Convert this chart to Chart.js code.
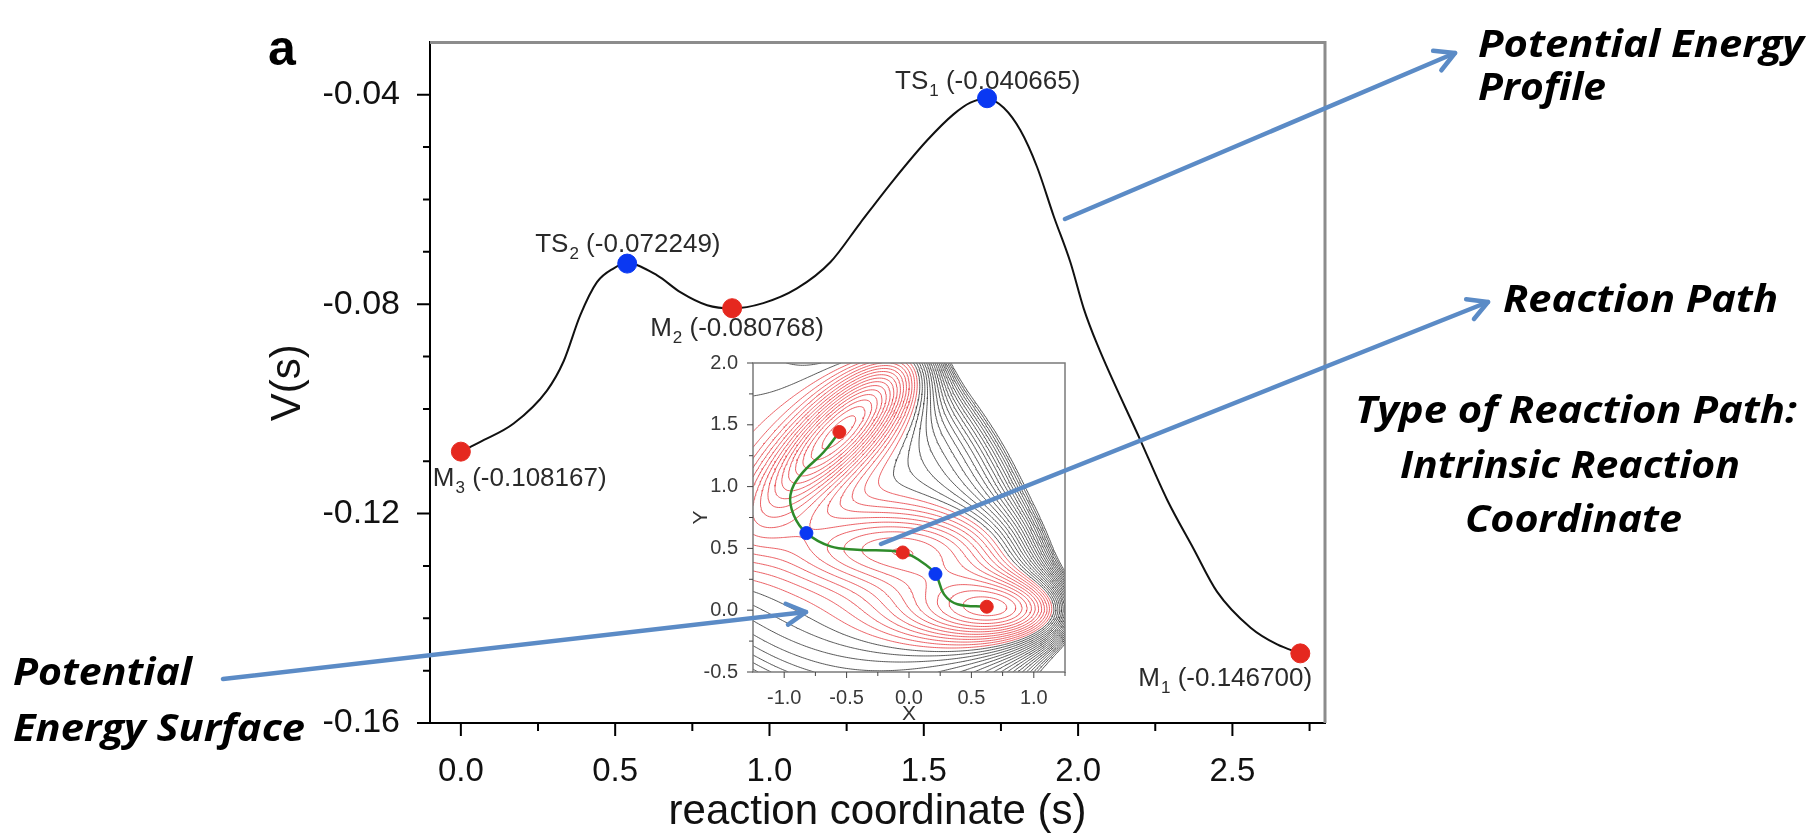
<!DOCTYPE html>
<html>
<head>
<meta charset="utf-8">
<script src="https://cdn.jsdelivr.net/npm/chart.js@4.4.0/dist/chart.umd.min.js"></script>
<style>
  html, body { margin: 0; padding: 0; background: #fff; }
  #wrap { position: relative; width: 1812px; height: 834px; overflow: hidden; }
  #main { position: absolute; left: 0; top: 0; }
  #inset { position: absolute; left: 690px; top: 340px; }
  #notes { position: absolute; left: 0; top: 0; }
  .note { font-family: "Open Sans", Lato, sans-serif; font-weight: 700; font-style: italic; font-size: 38px; fill: #000; }
</style>
</head>
<body>
<div id="wrap">
  <canvas id="main" width="1812" height="834"></canvas>
  <canvas id="inset" width="390" height="390"></canvas>
  <svg id="notes" width="1812" height="834">
    <text x="268" y="65" style="font-family:'Liberation Sans',Arial,sans-serif;font-weight:700;font-size:50px;">a</text>
    <g id="arrows" stroke="#5b8bc6" stroke-width="4.5" fill="none" stroke-linecap="round" stroke-linejoin="round"></g>
    <text class="note" x="1478" y="57" textLength="326" lengthAdjust="spacingAndGlyphs">Potential Energy</text>
    <text class="note" x="1478" y="100" textLength="128" lengthAdjust="spacingAndGlyphs">Profile</text>
    <text class="note" x="1503" y="312" textLength="275" lengthAdjust="spacingAndGlyphs">Reaction Path</text>
    <text class="note" x="1355" y="423" textLength="442" lengthAdjust="spacingAndGlyphs">Type of Reaction Path:</text>
    <text class="note" x="1400" y="478" textLength="340" lengthAdjust="spacingAndGlyphs">Intrinsic Reaction</text>
    <text class="note" x="1465" y="532" textLength="217" lengthAdjust="spacingAndGlyphs">Coordinate</text>
    <text class="note" x="13" y="685" textLength="179" lengthAdjust="spacingAndGlyphs">Potential</text>
    <text class="note" x="13" y="741" textLength="292" lengthAdjust="spacingAndGlyphs">Energy Surface</text>
  </svg>
</div>
<script>
// ---- main profile: V(s) along the reaction coordinate ----
const energyS = [0, 0.063, 0.171, 0.279, 0.333, 0.387, 0.441, 0.494, 0.539, 0.636, 0.711, 0.798,
  0.879, 0.98, 1.089, 1.197, 1.294, 1.402, 1.511, 1.597, 1.651, 1.705, 1.759, 1.813, 1.867,
  1.921, 1.975, 2.018, 2.062, 2.202, 2.288, 2.374, 2.45, 2.559, 2.645, 2.72];
const energyV = [-0.1082, -0.1063, -0.1028, -0.0965, -0.0909, -0.0821, -0.0758, -0.0732, -0.0722,
  -0.0745, -0.0777, -0.0802, -0.0808, -0.0798, -0.0770, -0.0720, -0.0645, -0.0563, -0.0487,
  -0.0437, -0.0415, -0.0407, -0.0425, -0.0468, -0.0538, -0.0632, -0.0720, -0.0808, -0.0877,
  -0.1060, -0.1173, -0.1267, -0.1349, -0.1418, -0.1450, -0.1467];

// stationary points
const minimaS = [0.0, 0.879, 2.72];
const minimaV = [-0.108167, -0.080768, -0.146700];
const minimaSub = ['3', '2', '1'];
const saddleS = [0.539, 1.705];
const saddleV = [-0.072249, -0.040665];
const saddleSub = ['2', '1'];

const xTicks = [0, 0.5, 1.0, 1.5, 2.0, 2.5];
const yTicks = [-0.16, -0.12, -0.08, -0.04];

// ---- inset: Muller-Brown surface ----
const mbAmp = [-200, -100, -170, 15];
const mbA = [-1, -1, -6.5, 0.7];
const mbB = [0, 0, 11, 0.6];
const mbC = [-10, -10, -6.5, 0.7];
const mbX0 = [1, 0, -0.5, -1];
const mbY0 = [0, 0.5, 1.5, 1];
const redLevels = [-140, -130, -120, -110, -100, -90, -80, -70, -60, -50, -40, -30, -20, -10];
const redDashLevels = [0, 10];
const greyLevels = [20, 30, 40, 50, 60, 70, 80, 90, 100, 110, 120, 130, 140, 150, 160, 170, 180, 190, 200];
const pathX = [-0.558, -0.683, -0.870, -0.950, -0.924, -0.822, -0.629, -0.415, -0.050, 0.094, 0.212, 0.281, 0.389, 0.623];
const pathY = [1.442, 1.280, 1.092, 0.932, 0.771, 0.624, 0.516, 0.490, 0.467, 0.396, 0.293, 0.128, 0.048, 0.028];
const insetMinX = [-0.558, -0.050, 0.623];
const insetMinY = [1.442, 0.467, 0.028];
const insetTsX = [-0.822, 0.212];
const insetTsY = [0.624, 0.293];
const insetXTicks = [-1.0, -0.5, 0.0, 0.5, 1.0];
const insetYTicks = [-0.5, 0.0, 0.5, 1.0, 1.5, 2.0];

Chart.defaults.font.family = "'Liberation Sans', Arial, sans-serif";
Chart.defaults.color = '#111';

const RED = '#e5281f';
const BLUE = '#0a38f2';

// label offsets (px) relative to each marker: [M3, M2, M1] and [TS2, TS1]
const minimaLabelOff = [[-28, 34], [-82, 28], [-162, 33]];
const saddleLabelOff = [[-92, -12], [-92, -9]];

function drawSubLabel(ctx, x, y, name, sub, value) {
  ctx.font = "26px 'Liberation Sans', Arial, sans-serif";
  ctx.fillStyle = '#2a2a2a';
  ctx.textBaseline = 'alphabetic';
  ctx.textAlign = 'left';
  ctx.fillText(name, x, y);
  let w = ctx.measureText(name).width;
  ctx.font = "17px 'Liberation Sans', Arial, sans-serif";
  ctx.fillText(sub, x + w + 1, y + 7);
  w += ctx.measureText(sub).width + 1;
  ctx.font = "26px 'Liberation Sans', Arial, sans-serif";
  ctx.fillText(' (' + value.toFixed(6) + ')', x + w, y);
}

const mainDecor = {
  id: 'mainDecor',
  beforeDatasetsDraw(chart) {
    const { ctx, scales: { x, y } } = chart;
    ctx.save();
    minimaS.forEach((s, i) => {
      drawSubLabel(ctx, x.getPixelForValue(s) + minimaLabelOff[i][0],
        y.getPixelForValue(minimaV[i]) + minimaLabelOff[i][1], 'M', minimaSub[i], minimaV[i]);
    });
    saddleS.forEach((s, i) => {
      drawSubLabel(ctx, x.getPixelForValue(s) + saddleLabelOff[i][0],
        y.getPixelForValue(saddleV[i]) + saddleLabelOff[i][1], 'TS', saddleSub[i], saddleV[i]);
    });
    ctx.restore();
  },
  afterDraw(chart) {
    const { ctx, chartArea: a, scales: { x, y } } = chart;
    ctx.save();
    // grey top / right frame
    ctx.strokeStyle = '#8c8c8c';
    ctx.lineWidth = 3;
    ctx.beginPath();
    ctx.moveTo(a.left, a.top);
    ctx.lineTo(a.right, a.top);
    ctx.lineTo(a.right, a.bottom);
    ctx.stroke();
    // ticks (major + minor), outside
    ctx.strokeStyle = '#000';
    ctx.lineWidth = 2;
    ctx.beginPath();
    for (let k = 0; k <= 12; k++) {
      const v = -0.16 + k * 0.01;
      const py = y.getPixelForValue(v);
      const len = k % 4 === 0 ? 13 : 7;
      ctx.moveTo(a.left - len, py);
      ctx.lineTo(a.left, py);
    }
    for (let k = 0; k <= 11; k++) {
      const v = k * 0.25;
      const px = x.getPixelForValue(v);
      const len = k % 2 === 0 ? 13 : 8;
      ctx.moveTo(px, a.bottom);
      ctx.lineTo(px, a.bottom + len);
    }
    ctx.stroke();
    ctx.restore();
  }
};

new Chart(document.getElementById('main'), {
  type: 'scatter',
  data: {
    datasets: [
      {
        label: 'minima',
        data: minimaS.map((s, i) => ({ x: s, y: minimaV[i] })),
        backgroundColor: RED, borderColor: RED, pointRadius: 9.5, pointHoverRadius: 9.5,
        order: 0
      },
      {
        label: 'transition states',
        data: saddleS.map((s, i) => ({ x: s, y: saddleV[i] })),
        backgroundColor: BLUE, borderColor: BLUE, pointRadius: 9.5, pointHoverRadius: 9.5,
        order: 0
      },
      {
        label: 'V(s)',
        data: energyS.map((s, i) => ({ x: s, y: energyV[i] })),
        showLine: true, borderColor: '#111', borderWidth: 2, pointRadius: 0,
        cubicInterpolationMode: 'monotone', order: 1
      }
    ]
  },
  options: {
    responsive: false,
    animation: false,
    layout: { padding: { left: 240, right: 487, top: 34, bottom: 0 } },
    plugins: { legend: { display: false }, tooltip: { enabled: false } },
    scales: {
      x: {
        type: 'linear', position: 'bottom', min: -0.1, max: 2.8,
        afterBuildTicks: s => { s.ticks = xTicks.map(v => ({ value: v })); },
        afterFit: s => { s.height = 111; },
        ticks: { font: { size: 33 }, color: '#111', padding: 21, maxRotation: 0, autoSkip: false,
          callback: v => v.toFixed(1) },
        grid: { display: false },
        border: { display: true, color: '#000', width: 2 },
        title: { display: true, text: 'reaction coordinate (s)', color: '#111',
          font: { size: 42, lineHeight: 1 }, padding: { top: 0, bottom: 1 } }
      },
      y: {
        type: 'linear', position: 'left', min: -0.16, max: -0.03,
        afterBuildTicks: s => { s.ticks = yTicks.map(v => ({ value: v })); },
        afterFit: s => { s.width = 190; },
        ticks: { font: { size: 34 }, color: '#111', padding: 22, autoSkip: false,
          callback: v => v.toFixed(2) },
        grid: { display: false },
        border: { display: true, color: '#000', width: 2 },
        title: { display: true, text: 'V(s)', color: '#111',
          font: { size: 42, lineHeight: 1 }, padding: { top: 27, bottom: 0 } }
      }
    }
  },
  plugins: [mainDecor]
});

// ---- inset contours (marching squares over the surface) ----
function mbV(x, y) {
  let v = 0;
  for (let k = 0; k < 4; k++) {
    const dx = x - mbX0[k], dy = y - mbY0[k];
    v += mbAmp[k] * Math.exp(mbA[k] * dx * dx + mbB[k] * dx * dy + mbC[k] * dy * dy);
  }
  return v;
}

const GX0 = -1.25, GX1 = 1.25, GY0 = -0.5, GY1 = 2.0, GN = 170;
const grid = [];
for (let j = 0; j <= GN; j++) {
  const row = [];
  for (let i = 0; i <= GN; i++) {
    row.push(mbV(GX0 + (GX1 - GX0) * i / GN, GY0 + (GY1 - GY0) * j / GN));
  }
  grid.push(row);
}

function contourSegments(levels) {
  const out = [];
  const dx = (GX1 - GX0) / GN, dy = (GY1 - GY0) / GN;
  levels.forEach(L => {
    for (let j = 0; j < GN; j++) {
      for (let i = 0; i < GN; i++) {
        const v00 = grid[j][i], v10 = grid[j][i + 1], v11 = grid[j + 1][i + 1], v01 = grid[j + 1][i];
        const x0 = GX0 + i * dx, y0 = GY0 + j * dy, x1 = x0 + dx, y1 = y0 + dy;
        const e = [null, null, null, null];
        if ((v00 > L) !== (v10 > L)) e[0] = { x: x0 + (L - v00) / (v10 - v00) * dx, y: y0 };
        if ((v10 > L) !== (v11 > L)) e[1] = { x: x1, y: y0 + (L - v10) / (v11 - v10) * dy };
        if ((v01 > L) !== (v11 > L)) e[2] = { x: x0 + (L - v01) / (v11 - v01) * dx, y: y1 };
        if ((v00 > L) !== (v01 > L)) e[3] = { x: x0, y: y0 + (L - v00) / (v01 - v00) * dy };
        const hits = e.filter(p => p);
        if (hits.length === 2) {
          out.push(hits[0], hits[1], { x: hits[1].x, y: null });
        } else if (hits.length === 4) {
          const c = (v00 + v10 + v11 + v01) / 4;
          if ((c > L) === (v00 > L)) {
            out.push(e[0], e[1], { x: e[1].x, y: null }, e[2], e[3], { x: e[3].x, y: null });
          } else {
            out.push(e[0], e[3], { x: e[3].x, y: null }, e[1], e[2], { x: e[2].x, y: null });
          }
        }
      }
    }
  });
  return out;
}

const insetDecor = {
  id: 'insetDecor',
  beforeDatasetsDraw(chart) {
    const { ctx, chartArea: a } = chart;
    ctx.save();
    ctx.fillStyle = '#fff';
    ctx.fillRect(a.left, a.top, a.right - a.left, a.bottom - a.top);
    ctx.restore();
  },
  afterDraw(chart) {
    const { ctx, chartArea: a, scales: { x, y } } = chart;
    ctx.save();
    ctx.strokeStyle = '#7a7a7a';
    ctx.lineWidth = 1.5;
    ctx.strokeRect(a.left, a.top, a.right - a.left, a.bottom - a.top);
    ctx.strokeStyle = '#444';
    ctx.lineWidth = 1;
    ctx.beginPath();
    for (let k = 0; k <= 10; k++) {
      const py = y.getPixelForValue(-0.5 + k * 0.25);
      const len = k % 2 === 0 ? 6 : 4;
      ctx.moveTo(a.left - len, py); ctx.lineTo(a.left, py);
    }
    for (let k = 0; k <= 9; k++) {
      const px = x.getPixelForValue(-1.0 + k * 0.25);
      const len = k % 2 === 0 ? 6 : 4;
      ctx.moveTo(px, a.bottom); ctx.lineTo(px, a.bottom + len);
    }
    ctx.stroke();
    ctx.restore();
  }
};

new Chart(document.getElementById('inset'), {
  type: 'scatter',
  data: {
    datasets: [
      {
        label: 'minima', data: insetMinX.map((v, i) => ({ x: v, y: insetMinY[i] })),
        backgroundColor: RED, borderColor: RED, pointRadius: 6.5, order: 0
      },
      {
        label: 'saddles', data: insetTsX.map((v, i) => ({ x: v, y: insetTsY[i] })),
        backgroundColor: BLUE, borderColor: BLUE, pointRadius: 6.5, order: 0
      },
      {
        label: 'IRC path', data: pathX.map((v, i) => ({ x: v, y: pathY[i] })),
        showLine: true, borderColor: '#2e8b2a', borderWidth: 2.5, pointRadius: 0, tension: 0.4, order: 1
      },
      {
        label: 'V < 0', data: contourSegments(redLevels),
        showLine: true, spanGaps: false, borderColor: 'rgba(232,70,75,0.85)', borderWidth: 1,
        pointRadius: 0, order: 2
      },
      {
        label: 'V ~ 0', data: contourSegments(redDashLevels),
        showLine: true, spanGaps: false, borderColor: 'rgba(232,70,75,0.85)', borderWidth: 1,
        borderDash: [5, 3], pointRadius: 0, order: 2
      },
      {
        label: 'V > 0', data: contourSegments(greyLevels),
        showLine: true, spanGaps: false, borderColor: 'rgba(60,60,60,0.85)', borderWidth: 1,
        pointRadius: 0, order: 3
      }
    ]
  },
  options: {
    responsive: false,
    animation: false,
    events: [],
    layout: { padding: { left: 0, right: 15, top: 23, bottom: 0 } },
    plugins: { legend: { display: false }, tooltip: { enabled: false } },
    scales: {
      x: {
        type: 'linear', min: -1.25, max: 1.25,
        afterBuildTicks: s => { s.ticks = insetXTicks.map(v => ({ value: v })); },
        afterFit: s => { s.height = 58; },
        ticks: { font: { size: 20 }, color: '#3a3a3a', padding: 6, maxRotation: 0, autoSkip: false,
          callback: v => v.toFixed(1) },
        grid: { display: false },
        border: { display: false },
        title: { display: true, text: 'X', color: '#333', font: { size: 21, lineHeight: 1 },
          padding: { top: 0, bottom: 5 } }
      },
      y: {
        type: 'linear', min: -0.5, max: 2.0,
        afterBuildTicks: s => { s.ticks = insetYTicks.map(v => ({ value: v })); },
        afterFit: s => { s.width = 63; },
        ticks: { font: { size: 20 }, color: '#3a3a3a', padding: 7, autoSkip: false,
          callback: v => v.toFixed(1) },
        grid: { display: false },
        border: { display: false },
        title: { display: true, text: 'Y', color: '#333', font: { size: 21, lineHeight: 1 },
          padding: { top: 1, bottom: 0 } }
      }
    }
  },
  plugins: [insetDecor]
});

// ---- annotation arrows ----
const arrows = [
  [1065, 219, 1455, 53],
  [881, 544, 1488, 302],
  [223, 679, 806, 612]
];
const g = document.getElementById('arrows');
arrows.forEach(([x1, y1, x2, y2]) => {
  const ang = Math.atan2(y2 - y1, x2 - x1);
  const hl = 22, spread = 0.5;
  const ax = x2 - hl * Math.cos(ang - spread), ay = y2 - hl * Math.sin(ang - spread);
  const bx = x2 - hl * Math.cos(ang + spread), by = y2 - hl * Math.sin(ang + spread);
  const line = document.createElementNS('http://www.w3.org/2000/svg', 'line');
  line.setAttribute('x1', x1); line.setAttribute('y1', y1);
  line.setAttribute('x2', x2); line.setAttribute('y2', y2);
  g.appendChild(line);
  const head = document.createElementNS('http://www.w3.org/2000/svg', 'polyline');
  head.setAttribute('points', `${ax},${ay} ${x2},${y2} ${bx},${by}`);
  g.appendChild(head);
});
</script>
</body>
</html>
